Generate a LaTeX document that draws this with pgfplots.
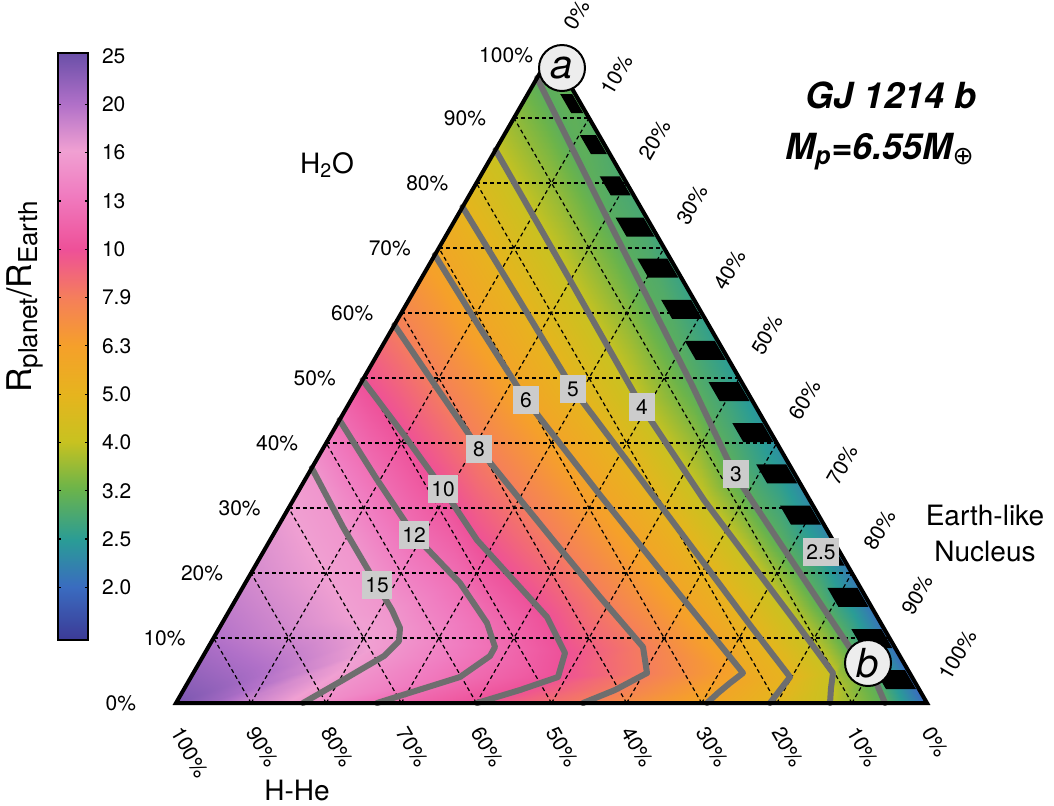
\documentclass[border=0pt]{standalone}
\usepackage{pgfplots}
\pgfplotsset{compat=1.18}
\usepackage{fontspec}
\setmainfont{TeX Gyre Heros}
\newfontfamily\symfont{DejaVu Sans}

% colour scale: positions are 1000*log10(R/R_Earth)
\pgfplotsset{
  colormap={radius}{
    rgb255(191)=(60,58,150);
    rgb255(301)=(58,108,192);
    rgb255(398)=(42,156,150);
    rgb255(505)=(108,180,74);
    rgb255(602)=(200,194,32);
    rgb255(699)=(230,180,30);
    rgb255(799)=(245,160,42);
    rgb255(898)=(245,127,90);
    rgb255(1000)=(238,80,152);
    rgb255(1114)=(240,124,192);
    rgb255(1204)=(240,160,210);
    rgb255(1301)=(176,112,200);
    rgb255(1406)=(106,79,168)
  }
}
\definecolor{cgray}{RGB}{110,110,110}
\definecolor{boxgray}{RGB}{204,204,204}
\tikzset{
  cline/.style={color=cgray, line width=3pt, line join=round, line cap=round},
  clabel/.style={fill=boxgray, inner sep=1.5pt, minimum height=14pt, minimum width=13pt, font=\fontsize{10.5}{12}\selectfont},
  tlab/.style={font=\fontsize{10.5}{12}\selectfont},
  biglab/.style={font=\fontsize{14}{17}\selectfont},
  endmember/.style={circle, fill=black!7, draw=black, line width=1pt, minimum size=23pt, inner sep=0pt, font=\fontsize{20}{24}\selectfont\itshape},
}

\begin{document}
\begin{tikzpicture}
\begin{axis}[
  width=527pt, height=402.5pt, scale only axis,
  xmin=0, xmax=1054, ymin=0, ymax=805, y dir=reverse,
  hide axis, clip=false,
  colormap name=radius,
  point meta min=0.191, point meta max=1.406,
]

% ---- colour field: bands between iso-radius curves (meta = log10 R)
\addplot[surf, shader=interp, point meta=explicit] table[meta=c] {
x y c
311.8 468 1.176
277.7 527 1.217
244.2 585 1.255
212.4 640 1.301
176 703 1.380
205 703 1.342
235 703 1.279
270 703 1.230
303 703 1.176

311.8 468 1.176
343 527 1.176
377 585 1.176
392 610 1.176
400 628 1.176
399 641 1.176
384 656 1.176
343 680 1.176
303 703 1.176

339.5 420 1.079
376 478 1.079
414 535 1.079
460 583 1.079
487 623 1.079
495 647 1.079
490 656 1.079
460 677 1.079
377 703 1.079

362.6 380 1.000
404 435 1.000
443 489 1.000
477 540 1.000
547 617 1.000
565 653 1.000
558 677 1.000
520 690 1.000
477 703 1.000

394.4 325 0.903
437 388 0.903
479 449 0.903
553 540 0.903
600 597 0.903
643 647 0.903
647 673 0.903
615 690 0.903
583 703 0.903

434.8 255 0.778
480 328 0.778
526 400 0.778
600 495 0.778
680 595 0.778
743 673 0.778
730 683 0.778
718 693 0.778
707 703 0.778

462.5 207 0.699
518 298 0.699
573 389 0.699
640 478 0.699
700 558 0.699
750 625 0.699
790 677 0.699
780 690 0.699
770 703 0.699

495.5 150 0.602
570 280 0.602
642 407 0.602
704 500 0.602
749 560 0.602
794 620 0.602
833 673 0.602
831 688 0.602
830 703 0.602

537.1 78 0.477
603 210 0.477
691 383 0.477
735 475 0.477
780 543 0.477
820 603 0.477
850 648 0.477
875 680 0.477
885 703 0.477

551.5 53 0.490
632 193 0.447
729 361 0.400
780 449 0.371
821 519 0.352
857 582 0.325
884 628 0.310
927 703 0.290
885 703 0.477
};

% ---- 10% grid
\addplot[black, line width=0.6pt, dash pattern=on 2pt off 1.5pt, unbounded coords=jump] coordinates {
(213.55,638) (889.45,638) (nan,nan)
(251.1,573) (851.9,573) (nan,nan)
(288.65,508) (814.35,508) (nan,nan)
(326.2,443) (776.8,443) (nan,nan)
(363.75,378) (739.25,378) (nan,nan)
(401.3,313) (701.7,313) (nan,nan)
(438.85,248) (664.15,248) (nan,nan)
(476.4,183) (626.6,183) (nan,nan)
(513.95,118) (589.05,118)
};
\addplot[black, line width=0.6pt, dash pattern=on 2pt off 1.5pt, unbounded coords=jump] coordinates {
(251.1,703) (589.05,118) (nan,nan)
(326.2,703) (626.6,183) (nan,nan)
(401.3,703) (664.15,248) (nan,nan)
(476.4,703) (701.7,313) (nan,nan)
(551.5,703) (739.25,378) (nan,nan)
(626.6,703) (776.8,443) (nan,nan)
(701.7,703) (814.35,508) (nan,nan)
(776.8,703) (851.9,573) (nan,nan)
(851.9,703) (889.45,638)
};
\addplot[black, line width=0.6pt, dash pattern=on 2pt off 1.5pt, unbounded coords=jump] coordinates {
(851.9,703) (513.95,118) (nan,nan)
(776.8,703) (476.4,183) (nan,nan)
(701.7,703) (438.85,248) (nan,nan)
(626.6,703) (401.3,313) (nan,nan)
(551.5,703) (363.75,378) (nan,nan)
(476.4,703) (326.2,443) (nan,nan)
(401.3,703) (288.65,508) (nan,nan)
(326.2,703) (251.1,573) (nan,nan)
(251.1,703) (213.55,638)
};

% ---- black bars along the nucleus edge
\addplot[fill=black, draw=none, unbounded coords=jump] coordinates {
(560.2,94) (572.2,94) (583.2,113) (571.2,113) (nan,nan)
(580,135.2) (596,135.2) (607,154.2) (591,154.2) (nan,nan)
(599.7,176.3) (619.7,176.3) (630.7,195.3) (610.7,195.3) (nan,nan)
(615.5,217.5) (643.5,217.5) (654.5,236.5) (626.5,236.5) (nan,nan)
(637.3,258.6) (667.3,258.6) (678.3,277.6) (648.3,277.6) (nan,nan)
(661.1,299.8) (691.1,299.8) (702.1,318.8) (672.1,318.8) (nan,nan)
(684.8,340.9) (714.8,340.9) (725.8,359.9) (695.8,359.9) (nan,nan)
(708.6,382.1) (738.6,382.1) (749.6,401.1) (719.6,401.1) (nan,nan)
(732.4,423.2) (762.4,423.2) (773.4,442.2) (743.4,442.2) (nan,nan)
(756.2,464.4) (786.2,464.4) (797.2,483.4) (767.2,483.4) (nan,nan)
(779.9,505.5) (809.9,505.5) (820.9,524.5) (790.9,524.5) (nan,nan)
(803.7,546.7) (833.7,546.7) (844.7,565.7) (814.7,565.7) (nan,nan)
(827.4,587.8) (857.4,587.8) (868.4,606.8) (838.4,606.8) (nan,nan)
(851.3,629) (881.3,629) (892.3,648) (862.3,648) (nan,nan)
(875,670.1) (905,670.1) (916,689.1) (886,689.1)
};

% ---- iso-radius curves
\addplot[cline] coordinates {(311.8,468) (343,527) (377,585) (392,610) (400,628) (399,641) (384,656) (343,680) (303,703)};
\addplot[cline] coordinates {(339.5,420) (376,478) (414,535) (460,583) (487,623) (495,647) (490,656) (460,677) (377,703)};
\addplot[cline] coordinates {(362.6,380) (404,435) (443,489) (477,540) (547,617) (565,653) (558,677) (520,690) (477,703)};
\addplot[cline] coordinates {(394.4,325) (437,388) (479,449) (553,540) (600,597) (643,647) (647,673) (615,690) (583,703)};
\addplot[cline] coordinates {(434.8,255) (480,328) (526,400) (600,495) (680,595) (743,673) (730,683) (718,693) (707,703)};
\addplot[cline] coordinates {(462.5,207) (518,298) (573,389) (640,478) (700,558) (750,625) (790,677) (780,690) (770,703)};
\addplot[cline] coordinates {(495.5,150) (570,280) (642,407) (704,500) (749,560) (794,620) (833,673) (831,688) (830,703)};
\addplot[cline] coordinates {(537.1,78) (603,210) (691,383) (735,475) (780,543) (820,603) (850,648) (875,680) (885,703)};

% ---- triangle outline
\addplot[black, line width=2pt, line join=miter] coordinates {(176,703) (927,703) (551.5,53) (176,703) (927,703)};

% ---- contour labels
\node[clabel] at (377,585) {15};
\node[clabel] at (414,535) {12};
\node[clabel] at (443,489) {10};
\node[clabel] at (479,449) {8};
\node[clabel] at (526,400) {6};
\node[clabel] at (573,389) {5};
\node[clabel] at (642,407) {4};
\node[clabel] at (736,474) {3};
\node[clabel] at (821,552) {2.5};

% ---- end-member markers
\node[endmember] at (562,68) {a};
\node[endmember] at (868,663) {b};

% ---- H2O axis labels
\node[tlab, anchor=east] at (143,703) {0\%};
\node[tlab, anchor=east] at (192.6,638) {10\%};
\node[tlab, anchor=east] at (230.1,573) {20\%};
\node[tlab, anchor=east] at (267.7,508) {30\%};
\node[tlab, anchor=east] at (305.2,443) {40\%};
\node[tlab, anchor=east] at (342.8,378) {50\%};
\node[tlab, anchor=east] at (380.3,313) {60\%};
\node[tlab, anchor=east] at (417.9,248) {70\%};
\node[tlab, anchor=east] at (455.4,183) {80\%};
\node[tlab, anchor=east] at (493,118) {90\%};
\node[tlab, anchor=east] at (540,55) {100\%};

% ---- nucleus axis labels
\node[tlab, anchor=west, rotate=60] at (565.5,34) {0\%};
\node[tlab, anchor=west, rotate=60] at (603.1,99) {10\%};
\node[tlab, anchor=west, rotate=60] at (640.6,164) {20\%};
\node[tlab, anchor=west, rotate=60] at (678.2,229) {30\%};
\node[tlab, anchor=west, rotate=60] at (715.7,294) {40\%};
\node[tlab, anchor=west, rotate=60] at (753.3,359) {50\%};
\node[tlab, anchor=west, rotate=60] at (790.8,424) {60\%};
\node[tlab, anchor=west, rotate=60] at (828.4,489) {70\%};
\node[tlab, anchor=west, rotate=60] at (865.9,554) {80\%};
\node[tlab, anchor=west, rotate=60] at (903.5,619) {90\%};
\node[tlab, anchor=west, rotate=60] at (941,684) {100\%};

% ---- H-He axis labels
\node[tlab, anchor=west, rotate=-60] at (173,723) {100\%};
\node[tlab, anchor=west, rotate=-60] at (248.1,723) {90\%};
\node[tlab, anchor=west, rotate=-60] at (323.2,723) {80\%};
\node[tlab, anchor=west, rotate=-60] at (398.3,723) {70\%};
\node[tlab, anchor=west, rotate=-60] at (473.4,723) {60\%};
\node[tlab, anchor=west, rotate=-60] at (548.5,723) {50\%};
\node[tlab, anchor=west, rotate=-60] at (623.6,723) {40\%};
\node[tlab, anchor=west, rotate=-60] at (698.7,723) {30\%};
\node[tlab, anchor=west, rotate=-60] at (773.8,723) {20\%};
\node[tlab, anchor=west, rotate=-60] at (848.9,723) {10\%};
\node[tlab, anchor=west, rotate=-60] at (924,723) {0\%};

% ---- component names and title
\node[biglab] at (327,165) {H\textsubscript{2}O};
\node[biglab] at (297,790) {H-He};
\node[biglab, align=center] at (985,533) {Earth-like\\[1pt]Nucleus};
\node[font=\fontsize{18}{21}\selectfont\bfseries\itshape] at (891,95) {GJ 1214 b};
\node[font=\fontsize{18}{21}\selectfont\bfseries\itshape] at (880,152) {M\textsubscript{p}=6.55M\textsubscript{\symfont\upshape\mdseries ⊕}};

% ---- colour bar
\addplot[surf, shader=interp, point meta=explicit] table[meta=c] {
x y c
58 53 1.406
88 53 1.406

58 640 0.191
88 640 0.191
};
\addplot[black, line width=0.6pt, unbounded coords=jump] coordinates {
(58,104.3) (61,104.3) (nan,nan) (85,104.3) (88,104.3) (nan,nan)
(58,152.6) (61,152.6) (nan,nan) (85,152.6) (88,152.6) (nan,nan)
(58,200.9) (61,200.9) (nan,nan) (85,200.9) (88,200.9) (nan,nan)
(58,249.2) (61,249.2) (nan,nan) (85,249.2) (88,249.2) (nan,nan)
(58,297.5) (61,297.5) (nan,nan) (85,297.5) (88,297.5) (nan,nan)
(58,345.8) (61,345.8) (nan,nan) (85,345.8) (88,345.8) (nan,nan)
(58,394.1) (61,394.1) (nan,nan) (85,394.1) (88,394.1) (nan,nan)
(58,442.4) (61,442.4) (nan,nan) (85,442.4) (88,442.4) (nan,nan)
(58,490.7) (61,490.7) (nan,nan) (85,490.7) (88,490.7) (nan,nan)
(58,539) (61,539) (nan,nan) (85,539) (88,539) (nan,nan)
(58,587.3) (61,587.3) (nan,nan) (85,587.3) (88,587.3)
};
\addplot[black, line width=1pt] coordinates {(58,53) (88,53) (88,640) (58,640) (58,53) (88,53)};
\node[tlab, anchor=west] at (95,56) {25};
\node[tlab, anchor=west] at (95,104.3) {20};
\node[tlab, anchor=west] at (95,152.6) {16};
\node[tlab, anchor=west] at (95,200.9) {13};
\node[tlab, anchor=west] at (95,249.2) {10};
\node[tlab, anchor=west] at (95,297.5) {7.9};
\node[tlab, anchor=west] at (95,345.8) {6.3};
\node[tlab, anchor=west] at (95,394.1) {5.0};
\node[tlab, anchor=west] at (95,442.4) {4.0};
\node[tlab, anchor=west] at (95,490.7) {3.2};
\node[tlab, anchor=west] at (95,539) {2.5};
\node[tlab, anchor=west] at (95,587.3) {2.0};
\node[rotate=90, font=\fontsize{17}{20}\selectfont] at (25,297) {R\raisebox{-0.3ex}{\fontsize{13}{14}\selectfont planet}/R\raisebox{-0.3ex}{\fontsize{13}{14}\selectfont Earth}};
\end{axis}
\pgfresetboundingbox
\path (current axis.south west) rectangle (current axis.north east);
\end{tikzpicture}
\end{document}
